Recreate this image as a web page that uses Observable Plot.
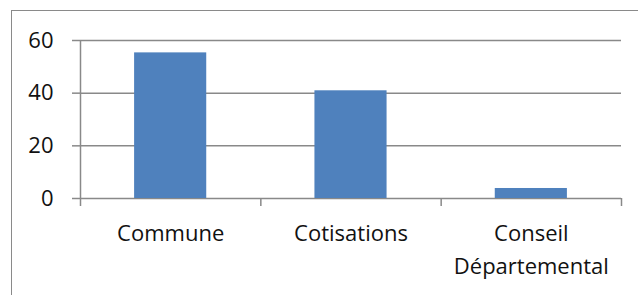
<!DOCTYPE html>
<html>
<head>
<meta charset="utf-8">
<script src="https://cdn.jsdelivr.net/npm/d3@7"></script>
<script src="https://cdn.jsdelivr.net/npm/@observablehq/plot@0.6"></script>
<style>
  html, body { margin: 0; padding: 0; background: #fff; }
  #wrap { position: relative; width: 638px; height: 295px; overflow: hidden; }
  #border { position: absolute; left: 10.5px; top: 10px; width: 700px; height: 400px;
            border: 1.5px solid #8a8a8a; box-sizing: border-box; pointer-events: none; }
  svg { display: block; }
</style>
</head>
<body>
<div id="wrap"><div id="border"></div></div>
<script>
const categories = ["Commune", "Cotisations", "Conseil\nDépartemental"];
const values = [55.3, 40.9, 3.8];
const yTicks = [0, 20, 40, 60];

const data = categories.map((c, i) => ({i, category: c, value: values[i]}));
const gridColor = "#898989";
const font = "'Open Sans', sans-serif";

const chart = Plot.plot({
  width: 638,
  height: 295,
  marginLeft: 80,
  marginRight: 17,
  marginTop: 40,
  marginBottom: 97,
  style: {fontFamily: font, background: "transparent", color: "#000"},
  x: {domain: [0, categories.length], axis: null},
  y: {domain: [0, 60], axis: null},
  marks: [
    Plot.ruleY(yTicks, {stroke: gridColor, strokeWidth: 1.5, strokeOpacity: 1}),
    Plot.rectY(data, {x1: d => d.i + 0.3, x2: d => d.i + 0.7, y1: 0, y2: "value", fill: "#4F81BD"}),
    Plot.ruleX([0], {y1: 0, y2: 60, stroke: gridColor, strokeWidth: 1.5}),
    Plot.axisY({ticks: yTicks, tickSize: 8, tickPadding: 19, fontSize: 22, stroke: gridColor, strokeWidth: 1.5, strokeOpacity: 1, fill: "#111", label: null}),
    Plot.axisX({ticks: d3.range(categories.length + 1), tickSize: 8, tickFormat: () => "", stroke: gridColor, strokeWidth: 1.5, strokeOpacity: 1, label: null}),
    Plot.axisX({ticks: categories.map((c, i) => i + 0.5), tickSize: 0, tickPadding: 19.5,
      tickFormat: (d) => categories[Math.floor(d)], fontSize: 22, lineHeight: 1.49, fill: "#111", label: null})
  ]
});
document.getElementById("wrap").prepend(chart);
</script>
</body>
</html>
